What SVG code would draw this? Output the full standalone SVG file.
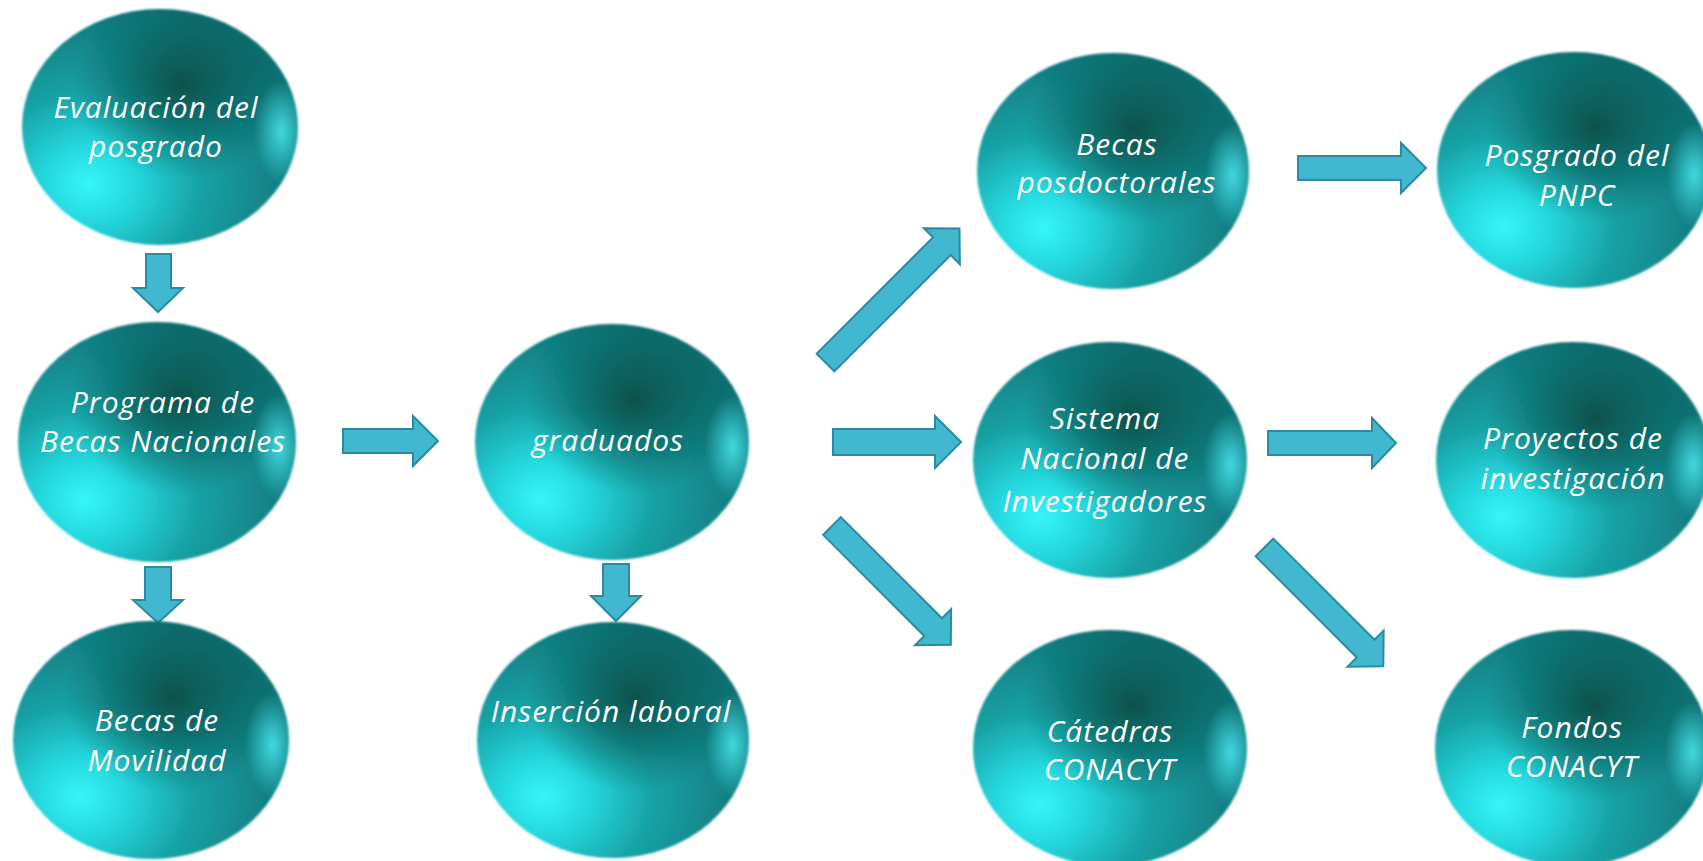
<svg xmlns="http://www.w3.org/2000/svg" width="1703" height="861" viewBox="0 0 1703 861">
<defs>
<radialGradient id="base" cx="0.27" cy="0.74" r="0.78" fx="0.24" fy="0.74">
<stop offset="0" stop-color="#36f6fa"/>
<stop offset="0.22" stop-color="#24d6dc"/>
<stop offset="0.5" stop-color="#18a2a6"/>
<stop offset="0.8" stop-color="#128488"/>
<stop offset="1" stop-color="#0f7376"/>
</radialGradient>
<radialGradient id="dark" cx="0.58" cy="0.32" r="0.4">
<stop offset="0" stop-color="#064a43" stop-opacity="0.9"/>
<stop offset="0.5" stop-color="#08524c" stop-opacity="0.5"/>
<stop offset="1" stop-color="#0a5a55" stop-opacity="0"/>
</radialGradient>
<radialGradient id="shine" cx="0.94" cy="0.52" r="0.22" gradientTransform="matrix(0.45,0,0,1,0.517,0)">
<stop offset="0" stop-color="#4ae8f0" stop-opacity="0.85"/>
<stop offset="1" stop-color="#4ae8f0" stop-opacity="0"/>
</radialGradient>
<filter id="soft" x="-5%" y="-5%" width="110%" height="110%">
<feGaussianBlur stdDeviation="1.2"/>
</filter>
</defs>
<style>
.b{fill:url(#base)}
.d{fill:url(#dark)}
.s{fill:url(#shine)}
.sp{filter:url(#soft)}
.t{font-family:"Open Sans","Noto Sans",sans-serif;font-style:italic;font-size:30px;letter-spacing:1px;fill:#ffffff;text-anchor:middle}
.a{fill:#41b7d0;stroke:#2a8ba0;stroke-width:2;stroke-linejoin:miter}
</style>
<rect width="1703" height="861" fill="#ffffff"/>

<g id="connectors">
<polygon class="a" points="146,254 171,254 171,288 183,288 158,312 133,288 146,288"/>
<polygon class="a" points="145,567 171,567 171,600 183,600 158,623 133,600 145,600"/>
<polygon class="a" points="603,564 629,564 629,596 641,596 616,621 591,596 603,596"/>
<polygon class="a" points="343,429 413,429 413,416 438,441 413,466 413,453 343,453"/>
<polygon class="a" points="833,429 935,429 935,416 961,442 935,468 935,455 833,455"/>
<polygon class="a" points="1298,156 1401,156 1401,143 1426,168 1401,193 1401,180 1298,180"/>
<polygon class="a" points="1268,431 1372,431 1372,418 1396,443 1372,468 1372,455 1268,455"/>
<polygon class="a" transform="translate(825.5,362.5) rotate(-45)" points="0,-12.5 164.5,-12.5 164.5,-25.5 189.5,0 164.5,25.5 164.5,12.5 0,12.5"/>
<polygon class="a" transform="translate(832,526) rotate(45)" points="0,-12.5 143,-12.5 143,-25.5 168,0 143,25.5 143,12.5 0,12.5"/>
<polygon class="a" transform="translate(1264.5,547.5) rotate(45)" points="0,-12.5 143,-12.5 143,-25.5 168,0 143,25.5 143,12.5 0,12.5"/>
</g>

<g id="n1">
<g class="sp"><ellipse class="b" cx="160" cy="127" rx="138" ry="118"/><ellipse class="d" cx="160" cy="127" rx="138" ry="118"/><ellipse class="s" cx="160" cy="127" rx="138" ry="118"/></g>
<text class="t" x="156" y="118">Evaluación del</text>
<text class="t" x="156" y="157">posgrado</text>
</g>

<g id="n2">
<g class="sp"><ellipse class="b" cx="157" cy="442" rx="139" ry="120"/><ellipse class="d" cx="157" cy="442" rx="139" ry="120"/><ellipse class="s" cx="157" cy="442" rx="139" ry="120"/></g>
<text class="t" x="163" y="413">Programa  de</text>
<text class="t" x="163" y="452">Becas Nacionales</text>
</g>

<g id="n3">
<g class="sp"><ellipse class="b" cx="151" cy="740" rx="138" ry="119"/><ellipse class="d" cx="151" cy="740" rx="138" ry="119"/><ellipse class="s" cx="151" cy="740" rx="138" ry="119"/></g>
<text class="t" x="157" y="731">Becas de</text>
<text class="t" x="157" y="771">Movilidad</text>
</g>

<g id="n4">
<g class="sp"><ellipse class="b" cx="612" cy="442" rx="137" ry="118"/><ellipse class="d" cx="612" cy="442" rx="137" ry="118"/><ellipse class="s" cx="612" cy="442" rx="137" ry="118"/></g>
<text class="t" x="608" y="451">graduados</text>
</g>

<g id="n5">
<g class="sp"><ellipse class="b" cx="613" cy="740" rx="136" ry="118"/><ellipse class="d" cx="613" cy="740" rx="136" ry="118"/><ellipse class="s" cx="613" cy="740" rx="136" ry="118"/></g>
<text class="t" x="611" y="722">Inserción laboral</text>
</g>

<g id="n6">
<g class="sp"><ellipse class="b" cx="1113" cy="171" rx="136" ry="118"/><ellipse class="d" cx="1113" cy="171" rx="136" ry="118"/><ellipse class="s" cx="1113" cy="171" rx="136" ry="118"/></g>
<text class="t" x="1117" y="155">Becas</text>
<text class="t" x="1117" y="193">posdoctorales</text>
</g>

<g id="n7">
<g class="sp"><ellipse class="b" cx="1110" cy="460" rx="137" ry="118"/><ellipse class="d" cx="1110" cy="460" rx="137" ry="118"/><ellipse class="s" cx="1110" cy="460" rx="137" ry="118"/></g>
<text class="t" x="1105" y="429">Sistema</text>
<text class="t" x="1105" y="469">Nacional de</text>
<text class="t" x="1105" y="512">Investigadores</text>
</g>

<g id="n8">
<g class="sp"><ellipse class="b" cx="1110" cy="748" rx="137" ry="118"/><ellipse class="d" cx="1110" cy="748" rx="137" ry="118"/><ellipse class="s" cx="1110" cy="748" rx="137" ry="118"/></g>
<text class="t" x="1110" y="742">Cátedras</text>
<text class="t" x="1110" y="780">CONACYT</text>
</g>

<g id="n9">
<g class="sp"><ellipse class="b" cx="1574" cy="170" rx="137" ry="118"/><ellipse class="d" cx="1574" cy="170" rx="137" ry="118"/><ellipse class="s" cx="1574" cy="170" rx="137" ry="118"/></g>
<text class="t" x="1577" y="166">Posgrado del</text>
<text class="t" x="1577" y="206">PNPC</text>
</g>

<g id="n10">
<g class="sp"><ellipse class="b" cx="1573" cy="460" rx="137" ry="118"/><ellipse class="d" cx="1573" cy="460" rx="137" ry="118"/><ellipse class="s" cx="1573" cy="460" rx="137" ry="118"/></g>
<text class="t" x="1573" y="449">Proyectos  de</text>
<text class="t" x="1573" y="489">investigación</text>
</g>

<g id="n11">
<g class="sp"><ellipse class="b" cx="1572" cy="748" rx="137" ry="118"/><ellipse class="d" cx="1572" cy="748" rx="137" ry="118"/><ellipse class="s" cx="1572" cy="748" rx="137" ry="118"/></g>
<text class="t" x="1572" y="738">Fondos</text>
<text class="t" x="1572" y="777">CONACYT</text>
</g>
</svg>
